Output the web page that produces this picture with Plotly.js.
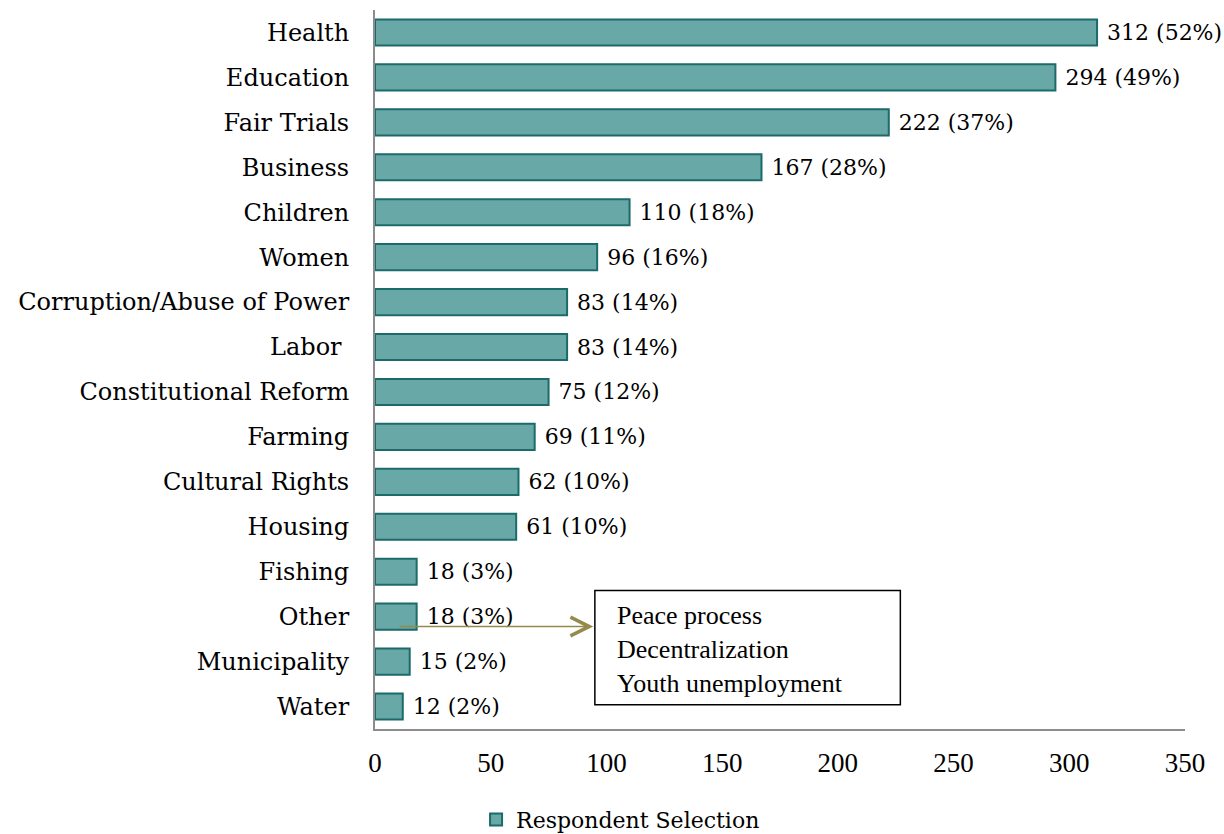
<!DOCTYPE html>
<html>
<head>
<meta charset="utf-8">
<script src="https://cdn.plot.ly/plotly-3.0.1.min.js"></script>
<style>html,body{margin:0;padding:0;background:#fff;}#chart{width:1224px;height:834px;}</style>
</head>
<body>
<div id="chart"></div>
<script>
const categories = ["Health","Education","Fair Trials","Business","Children","Women","Corruption/Abuse of Power","Labor ","Constitutional Reform","Farming","Cultural Rights","Housing","Fishing","Other","Municipality","Water"];
const counts = [312,294,222,167,110,96,83,83,75,69,62,61,18,18,15,12];
const percents = [52,49,37,28,18,16,14,14,12,11,10,10,3,3,2,2];
const otherItems = ["Peace process","Decentralization","Youth unemployment"];
const seriesName = "Respondent Selection";

const font = "'DejaVu Serif', serif";
const tnr = "'Liberation Serif', 'Times New Roman', serif";

const trace = {
  type: "bar",
  orientation: "h",
  y: categories,
  x: counts,
  customdata: percents,
  name: seriesName,
  texttemplate: " %{x} (%{customdata}%)",
  textposition: "outside",
  constraintext: "none",
  cliponaxis: false,
  textfont: {family: font, size: 22, color: "#000"},
  marker: {color: "#68a8a7", line: {color: "#1b6b6a", width: 2}},
  width: 0.58,
  hoverinfo: "skip"
};

const layout = {
  width: 1224, height: 834,
  margin: {l: 375, r: 39, t: 10, b: 105},
  paper_bgcolor: "#fff", plot_bgcolor: "#fff",
  font: {family: font, size: 22, color: "#000"},
  showlegend: true,
  legend: {orientation: "h", xref: "container", yref: "container", x: 0.507, xanchor: "center", y: 0.017, yanchor: "middle", font: {family: font, size: 22}},
  xaxis: {range: [0, 350], dtick: 50, showgrid: false, zeroline: false, showline: true, linecolor: "#8c8c8c", linewidth: 2, ticks: "", ticklabelstandoff: 9, tickfont: {family: tnr, size: 27, color: "#000"}},
  yaxis: {type: "category", categoryorder: "array", categoryarray: categories, autorange: "reversed", showgrid: false, zeroline: false, showline: true, linecolor: "#8c8c8c", linewidth: 2, ticks: "", ticklabelstandoff: 19, tickfont: {family: font, size: 24, color: "#000"}},
  shapes: [
    {type: "rect", xref: "x", yref: "y", x0: 95, x1: 227, y0: 12.42, y1: 14.96, line: {color: "#000", width: 1.5}, fillcolor: "#fff", layer: "above"}
  ],
  annotations: [
    {xref: "x", yref: "y", x: 94.3, y: 13.22, ax: 10, ay: 13.22, axref: "x", ayref: "y", showarrow: true, arrowhead: 5, arrowsize: 2.3, arrowwidth: 1.6, arrowcolor: "#958a4c", text: ""},
    {xref: "x", yref: "y", x: 103.7, y: 13.72, xanchor: "left", yanchor: "middle", align: "left", showarrow: false,
     text: otherItems.join("<br>"), font: {family: tnr, size: 26, color: "#000"}}
  ]
};

Plotly.newPlot("chart", [trace], layout, {displayModeBar: false});
</script>
</body>
</html>
